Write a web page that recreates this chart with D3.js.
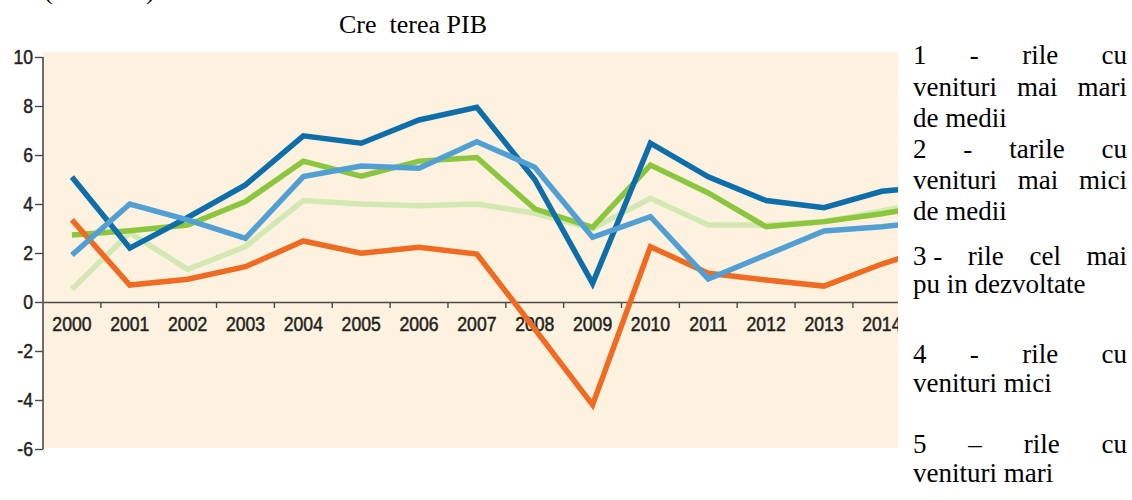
<!DOCTYPE html>
<html>
<head>
<meta charset="utf-8">
<script src="https://cdn.jsdelivr.net/npm/d3@7"></script>
<style>
  html, body { margin: 0; padding: 0; background: #ffffff; }
  svg { display: block; }
</style>
</head>
<body>
<svg id="chart" width="1132" height="500"></svg>
<script>
// ---- data ----
const years = ["2000","2001","2002","2003","2004","2005","2006","2007","2008","2009","2010","2011","2012","2013","2014","2015"];
const yTicks = [-6, -4, -2, 0, 2, 4, 6, 8, 10];

const seriesDarkBlue   = [5.1, 2.2, 3.45, 4.78, 6.78, 6.48, 7.43, 7.95, 5.0, 0.76, 6.48, 5.11, 4.14, 3.85, 4.52, 4.74];
const seriesGreen      = [2.73, 2.91, 3.14, 4.1, 5.75, 5.14, 5.75, 5.9, 3.8, 3.05, 5.59, 4.45, 3.07, 3.28, 3.6, 4.0];
const seriesLightBlue  = [1.92, 4.0, 3.35, 2.6, 5.12, 5.55, 5.46, 6.54, 5.5, 2.64, 3.48, 0.94, 1.92, 2.9, 3.07, 3.34];
const seriesLightGreen = [0.52, 2.83, 1.33, 2.26, 4.14, 4.0, 3.93, 4.0, 3.62, 3.0, 4.23, 3.14, 3.14, 3.28, 3.72, 4.15];
const seriesOrange     = [3.35, 0.69, 0.93, 1.44, 2.49, 1.99, 2.23, 1.96, -1.1, -4.2, 2.26, 1.17, 0.9, 0.65, 1.55, 2.3];

const titleText = "Cre  terea PIB";
const legendLines = [
  { words: ["1", "-", "rile", "cu"], justify: true },
  { words: ["venituri", "mai", "mari"], justify: true },
  { words: ["de medii"], justify: false },
  { words: ["2", "-", "tarile", "cu"], justify: true },
  { words: ["venituri", "mai", "mici"], justify: true },
  { words: ["de medii"], justify: false },
  { words: ["3 -", "rile", "cel", "mai"], justify: true },
  { words: ["pu in dezvoltate"], justify: false },
  { words: ["4", "-", "rile", "cu"], justify: true },
  { words: ["venituri mici"], justify: false },
  { words: ["5", "\u2013", "rile", "cu"], justify: true },
  { words: ["venituri mari"], justify: false }
];
const legendBaselines = [64, 96, 127, 158, 189, 220, 265, 293, 363, 392, 453, 482];

const series = [
  { values: seriesLightGreen, color: "#d4e8b4" },
  { values: seriesGreen,      color: "#8cc63f" },
  { values: seriesOrange,     color: "#ef6b22" },
  { values: seriesDarkBlue,   color: "#0e6ea9" },
  { values: seriesLightBlue,  color: "#529fd4" }
];

// ---- layout ----
const svg = d3.select("#chart");
const plotLeft = 43, plotRight = 898, bgTop = 52, bgBottom = 448;
const bandW = 57.85;

const x = d3.scaleBand().domain(years).range([plotLeft, plotLeft + bandW * years.length]).padding(0);
const y = d3.scaleLinear().domain([-6, 10]).range([449, 57]);

const defs = svg.append("defs");
defs.append("clipPath").attr("id", "plotClip")
  .append("rect").attr("x", 0).attr("y", 0).attr("width", plotRight).attr("height", 500);

// background
svg.append("rect")
  .attr("x", plotLeft).attr("y", bgTop)
  .attr("width", plotRight - plotLeft).attr("height", bgBottom - bgTop)
  .attr("fill", "#fdf2df");

// title & stray parentheses (partially visible at the top edge, as in the source)
const serif = "'Liberation Serif','Times New Roman',serif";
svg.append("text").attr("x", 44).attr("y", -1)
  .attr("font-family", serif).attr("font-size", 26).text("(");
svg.append("text").attr("x", 146).attr("y", -1)
  .attr("font-family", serif).attr("font-size", 26).text(")");
svg.append("text")
  .attr("x", 413).attr("y", 33)
  .attr("text-anchor", "middle")
  .attr("font-family", serif)
  .attr("font-size", 26)
  .attr("fill", "#000")
  .style("white-space", "pre")
  .text(titleText);

const axisColor = "#4a4a4a";
const labelColor = "#231f20";
const tickFont = "'Liberation Sans Narrow','Arial Narrow','Liberation Sans',Arial,sans-serif";
const squeeze = 0.86;

// y axis
const yAxis = svg.append("g")
  .attr("transform", `translate(${plotLeft},0)`)
  .call(d3.axisLeft(y).tickValues(yTicks).tickSize(8).tickPadding(2).tickFormat(d => String(d)));
yAxis.select(".domain").attr("stroke", axisColor).attr("stroke-width", 1.6)
  .attr("d", `M0,${y(10)}V${y(-6)}`);
yAxis.selectAll(".tick line").attr("stroke", axisColor).attr("stroke-width", 1.4);
yAxis.selectAll(".tick text")
  .attr("x", -10 / squeeze)
  .attr("transform", `scale(${squeeze},1)`)
  .attr("font-family", tickFont).attr("font-size", 20.5)
  .attr("fill", labelColor).attr("stroke", labelColor).attr("stroke-width", 0.5);

// x axis at y=0 (clipped)
const xg = svg.append("g").attr("clip-path", "url(#plotClip)");
const xAxis = xg.append("g")
  .attr("transform", `translate(0,${y(0)})`)
  .call(d3.axisBottom(x).tickSize(0).tickPadding(14));
xAxis.select(".domain").attr("stroke", axisColor).attr("stroke-width", 1.6);
xAxis.selectAll(".tick text")
  .attr("transform", `scale(${squeeze},1)`)
  .attr("font-family", tickFont).attr("font-size", 20.5)
  .attr("fill", labelColor).attr("stroke", labelColor).attr("stroke-width", 0.5);
// boundary ticks between years
xg.append("g").selectAll("line")
  .data(years.slice(1))
  .join("line")
  .attr("x1", d => x(d)).attr("x2", d => x(d))
  .attr("y1", y(0)).attr("y2", y(0) + 6)
  .attr("stroke", axisColor).attr("stroke-width", 1.4);

// lines
const line = d3.line()
  .x((d, i) => x(years[i]) + x.bandwidth() / 2)
  .y(d => y(d));
const lg = svg.append("g").attr("clip-path", "url(#plotClip)");
lg.selectAll("path")
  .data(series)
  .join("path")
  .attr("d", d => line(d.values))
  .attr("fill", "none")
  .attr("stroke", d => d.color)
  .attr("stroke-width", 5.5)
  .attr("stroke-linejoin", "miter")
  .attr("stroke-linecap", "butt");

// legend text (justified paragraph)
const legLeft = 913, legRight = 1127;
const leg = svg.append("g").attr("font-family", serif).attr("font-size", 27).attr("fill", "#000");
legendLines.forEach((ln, i) => {
  const yy = legendBaselines[i];
  if (!ln.justify) {
    leg.append("text").attr("x", legLeft).attr("y", yy).text(ln.words.join(" "));
    return;
  }
  const nodes = ln.words.map(w => leg.append("text").attr("y", yy).text(w));
  const widths = nodes.map(n => n.node().getComputedTextLength());
  const total = d3.sum(widths);
  const gap = (legRight - legLeft - total) / (ln.words.length - 1);
  let cx = legLeft;
  nodes.forEach((n, k) => { n.attr("x", cx); cx += widths[k] + gap; });
});
</script>
</body>
</html>
